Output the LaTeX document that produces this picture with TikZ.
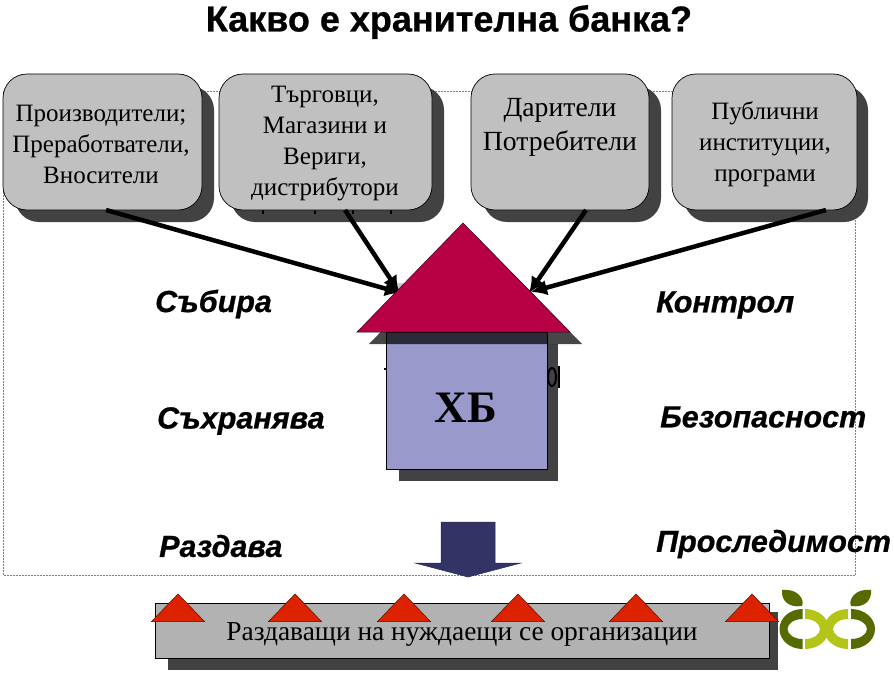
\documentclass[tikz,border=0pt]{standalone}
\usepackage{fontspec}
\setmainfont{Liberation Serif}
\setsansfont{Liberation Sans}[BoldFeatures={FakeBold=0.7},BoldItalicFeatures={FakeBold=0.7}]
\usetikzlibrary{arrows.meta}
\definecolor{boxgray}{HTML}{C0C0C0}
\definecolor{shadowgray}{HTML}{424242}
\definecolor{roofred}{HTML}{B80045}
\definecolor{wallblue}{HTML}{9999CC}
\definecolor{downblue}{HTML}{333366}
\definecolor{tipred}{HTML}{DD2200}
\definecolor{barfill}{HTML}{B2B2B2}
\definecolor{leafdark}{HTML}{556B00}
\definecolor{leaflight}{HTML}{B5C418}
\tikzset{>=latex}
\begin{document}
\begin{tikzpicture}[x=1pt,y=-1pt,inner sep=0pt]
  \tikzstyle{card}=[draw=black,fill=boxgray,rounded corners=24pt,line width=0.7pt]
  \tikzstyle{shade}=[fill=shadowgray,rounded corners=24pt]
  \tikzstyle{cardtext}=[align=center,font=\fontsize{25}{31}\selectfont]
  \tikzstyle{verb}=[font=\sffamily\bfseries\itshape\fontsize{30.5}{36}\selectfont]
  \tikzstyle{link}=[line width=4.5pt,-{Latex[length=16pt,width=16pt]}]
  \tikzstyle{marker}=[fill=tipred,draw=black!60!tipred,line width=0.5pt]
  \useasboundingbox (0,0) rectangle (894,677);
  \node[font=\sffamily\bfseries\fontsize{36}{42}\selectfont] (title) at (449,22) {Какво е хранителна банка?};
  \draw[densely dotted,gray,line width=0.5pt] (3,91) rectangle (855,575);
  % shadows
  \fill[shade] (15,86) rectangle (214,222);
  \fill[shade] (231,86) rectangle (444,222);
  \fill[shade] (483,86) rectangle (661,222);
  \fill[shade] (684,86) rectangle (868,222);
  % bits showing under the second box
  \foreach \bitx in {262,314,352,390}
    \fill[black] (\bitx,210) rectangle (\bitx+1.5,214);
  % boxes
  \draw[card] (3,74) rectangle (202,210);
  \draw[card] (219,74) rectangle (432,210);
  \draw[card] (471,74) rectangle (649,210);
  \draw[card] (672,74) rectangle (857,210);
  \node[cardtext] (producers) at (101,144) {Производители;\\Преработватели,\\Вносители};
  \node[cardtext] (traders) at (325,144) {Търговци,\\Магазини и\\Вериги,\\дистрибутори};
  \node[cardtext,font=\fontsize{27.7}{34}\selectfont] (donors) at (560,127) {Дарители\\Потребители};
  \node[cardtext] (public) at (765,144) {Публични\\институции,\\програми};
  \coordinate (prodout) at (106,210);
  \coordinate (tradout) at (345,210);
  \coordinate (donout) at (586,210);
  \coordinate (pubout) at (826,210);
  \coordinate (roofleft) at (401,293);
  \coordinate (roofleftb) at (399,292);
  \coordinate (roofright) at (529,293);
  \coordinate (roofrightb) at (531,292);
  \fill[wallblue!50!white] (397,283) rectangle (405,292);
  \draw[link] (prodout) -- (roofleft);
  \draw[link] (tradout) -- (roofleftb);
  \draw[link] (donout) -- (roofright);
  \draw[link] (pubout) -- (roofrightb);
  % house
  \fill[shadowgray] (399,344) rectangle (558,481);
  \fill[black] (384,368) rectangle (388,370);
  \draw[black,line width=2pt] (552,377) ellipse (4pt and 9pt);
  \fill[black] (558,366) rectangle (560,388);
  \draw[black,fill=wallblue,line width=0.7pt] (386,332) rectangle (547,469);
  \fill[black,opacity=.72] (475,235) -- (582,344) -- (369,344) -- cycle;
  \draw[fill=roofred,draw=black!70!roofred,line width=0.5pt] (463,223) -- (570,332) -- (357,332) -- cycle;
  \node[font=\bfseries\fontsize{45}{50}\selectfont] (bank) at (466,408) {ХБ};
  \node[verb,anchor=west] (collect) at (155,304) {Събира};
  \node[verb,anchor=west] (store) at (157,421) {Съхранява};
  \node[verb,anchor=west] (give) at (159,546) {Раздава};
  \node[verb,anchor=west] (control) at (656,305) {Контрол};
  \node[verb,anchor=west] (safety) at (660,417) {Безопасност};
  \node[verb,anchor=west] (trace) at (656,544) {Проследимост};
  % down arrow
  \draw[fill=downblue,draw=downblue!80!black,line width=0.5pt] (441,522) -- (495,522) -- (495,563) -- (521,563) -- (468,577) -- (415,563) -- (441,563) -- cycle;
  % bar
  \fill[shadowgray] (168,612) rectangle (778,670);
  \draw[fill=barfill,line width=0.7pt] (155,603) rectangle (769,658);
  \node[font=\fontsize{27.4}{32}\selectfont] (receivers) at (462,634) {Раздаващи на нуждаещи се организации};
  \foreach \tipx in {178,295,404,518,636,752}
    \draw[marker] (\tipx,594) -- (\tipx+26.5,621.5) -- (\tipx-26.5,621.5) -- cycle;
  % logo
  \fill[leafdark] (782,590) .. controls (798,588) and (805,600) .. (802,606) .. controls (788,608) and (781,600) .. cycle;
  \fill[leafdark] (871,590) .. controls (855,588) and (848,600) .. (851,606) .. controls (865,608) and (872,600) .. cycle;
  \fill[leafdark] (802.5,609) arc[start angle=90,end angle=270,x radius=23pt,y radius=20pt] -- (802.5,639) arc[start angle=270,end angle=90,x radius=15pt,y radius=10pt] -- cycle;
  \fill[leafdark] (851,609) arc[start angle=90,end angle=-90,x radius=24pt,y radius=20pt] -- (851,639) arc[start angle=-90,end angle=90,x radius=16pt,y radius=10pt] -- cycle;
  \fill[leaflight] (805,609) arc[start angle=90,end angle=-90,x radius=24pt,y radius=20pt] -- (805,639) arc[start angle=-90,end angle=90,x radius=15pt,y radius=10pt] -- cycle;
  \fill[leaflight] (848,609) arc[start angle=90,end angle=270,x radius=24pt,y radius=20pt] -- (848,639) arc[start angle=270,end angle=90,x radius=15pt,y radius=10pt] -- cycle;
\end{tikzpicture}
\end{document}
